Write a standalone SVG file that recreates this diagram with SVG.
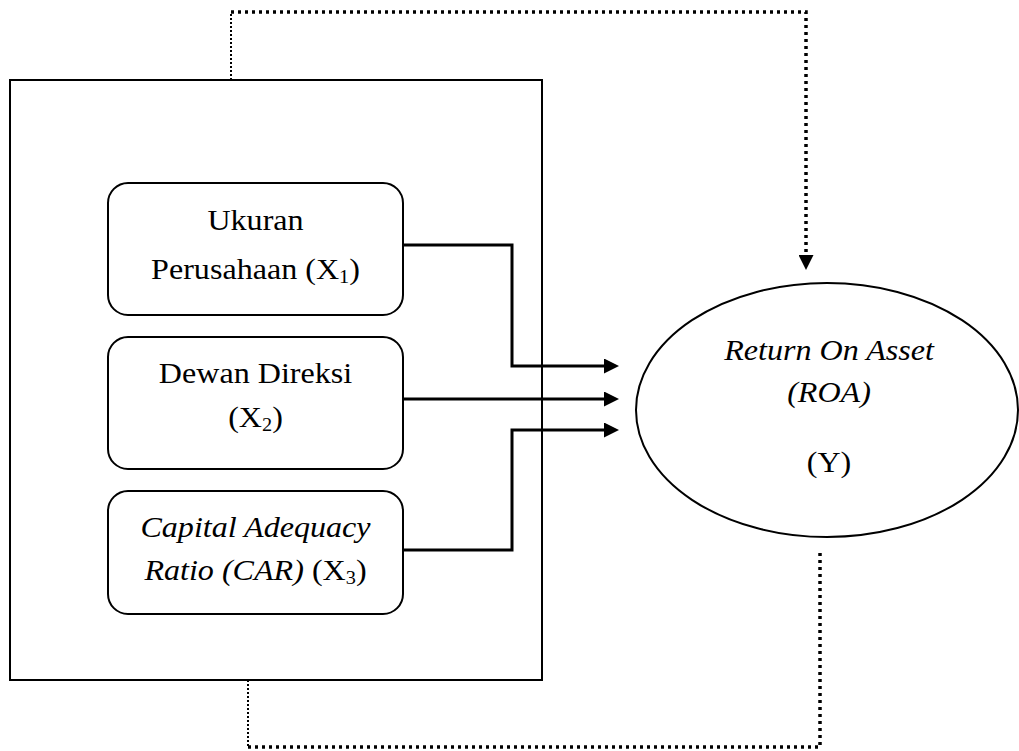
<svg xmlns="http://www.w3.org/2000/svg" width="1019" height="751" viewBox="0 0 1019 751">
  <style>
    .frame { fill: #fff; stroke: #000; stroke-width: 2; }
    .box { fill: #fff; stroke: #000; stroke-width: 2; }
    .oval { fill: #fff; stroke: #000; stroke-width: 2; }
    .conn { fill: none; stroke: #000; stroke-width: 3; }
    .dotthin { fill: none; stroke: #000; stroke-width: 2; stroke-dasharray: 2 2; }
    .dotthick { fill: none; stroke: #000; stroke-width: 3.5; stroke-dasharray: 3 4; }
    .t { font-family: "Liberation Serif", "Times New Roman", serif; font-size: 30px; fill: #000; text-anchor: middle; }
    .i { font-style: italic; }
    .sub { font-size: 19px; font-style: normal; }
  </style>
  <defs>
    <marker id="ah" viewBox="0 0 15 15" refX="0" refY="7.5" markerWidth="15" markerHeight="15" markerUnits="userSpaceOnUse" orient="auto">
      <path d="M0 0 L15 7.5 L0 15 Z" fill="#000"/>
    </marker>
  </defs>

  <rect width="1019" height="751" fill="#fff"/>

  <g id="frame">
    <rect class="frame" x="10" y="80" width="532" height="600"/>
  </g>

  <g id="connectors">
    <path class="dotthin" d="M231 80 V12"/>
    <path class="dotthick" d="M231 12 H806 V255" marker-end="url(#ah)"/>
    <path class="dotthin" d="M248 680 V747"/>
    <path class="dotthick" d="M248 747 H820 V553"/>
    <path class="conn" d="M403 245 H512 V366 H604" marker-end="url(#ah)"/>
    <path class="conn" d="M403 399 H604" marker-end="url(#ah)"/>
    <path class="conn" d="M403 550 H512 V430 H604" marker-end="url(#ah)"/>
  </g>

  <g id="x1">
    <rect class="box" x="108" y="183" width="295" height="132" rx="20" ry="20"/>
    <text class="t" transform="matrix(1.07 0 0 1 255.5 230)">Ukuran</text>
    <text class="t" transform="matrix(1.07 0 0 1 255.5 279)">Perusahaan (X<tspan class="sub" dy="4">1</tspan><tspan dy="-4">)</tspan></text>
  </g>

  <g id="x2">
    <rect class="box" x="108" y="337" width="295" height="132" rx="20" ry="20"/>
    <text class="t" transform="matrix(1.07 0 0 1 255.5 383)">Dewan Direksi</text>
    <text class="t" transform="matrix(1.07 0 0 1 255.5 427)">(X<tspan class="sub" dy="4">2</tspan><tspan dy="-4">)</tspan></text>
  </g>

  <g id="x3">
    <rect class="box" x="108" y="491" width="295" height="123" rx="20" ry="20"/>
    <text class="t i" transform="matrix(1.07 0 0 1 255.5 537)">Capital Adequacy</text>
    <text class="t" transform="matrix(1.07 0 0 1 255.5 580)"><tspan class="i">Ratio (CAR)</tspan> (X<tspan class="sub" dy="4">3</tspan><tspan dy="-4">)</tspan></text>
  </g>

  <g id="y">
    <ellipse class="oval" cx="827" cy="410" rx="191" ry="127"/>
    <text class="t i" transform="matrix(1.07 0 0 1 829 360)">Return On Asset</text>
    <text class="t i" transform="matrix(1.07 0 0 1 829 402)">(ROA)</text>
    <text class="t" transform="matrix(1.07 0 0 1 829 472)">(Y)</text>
  </g>
</svg>
